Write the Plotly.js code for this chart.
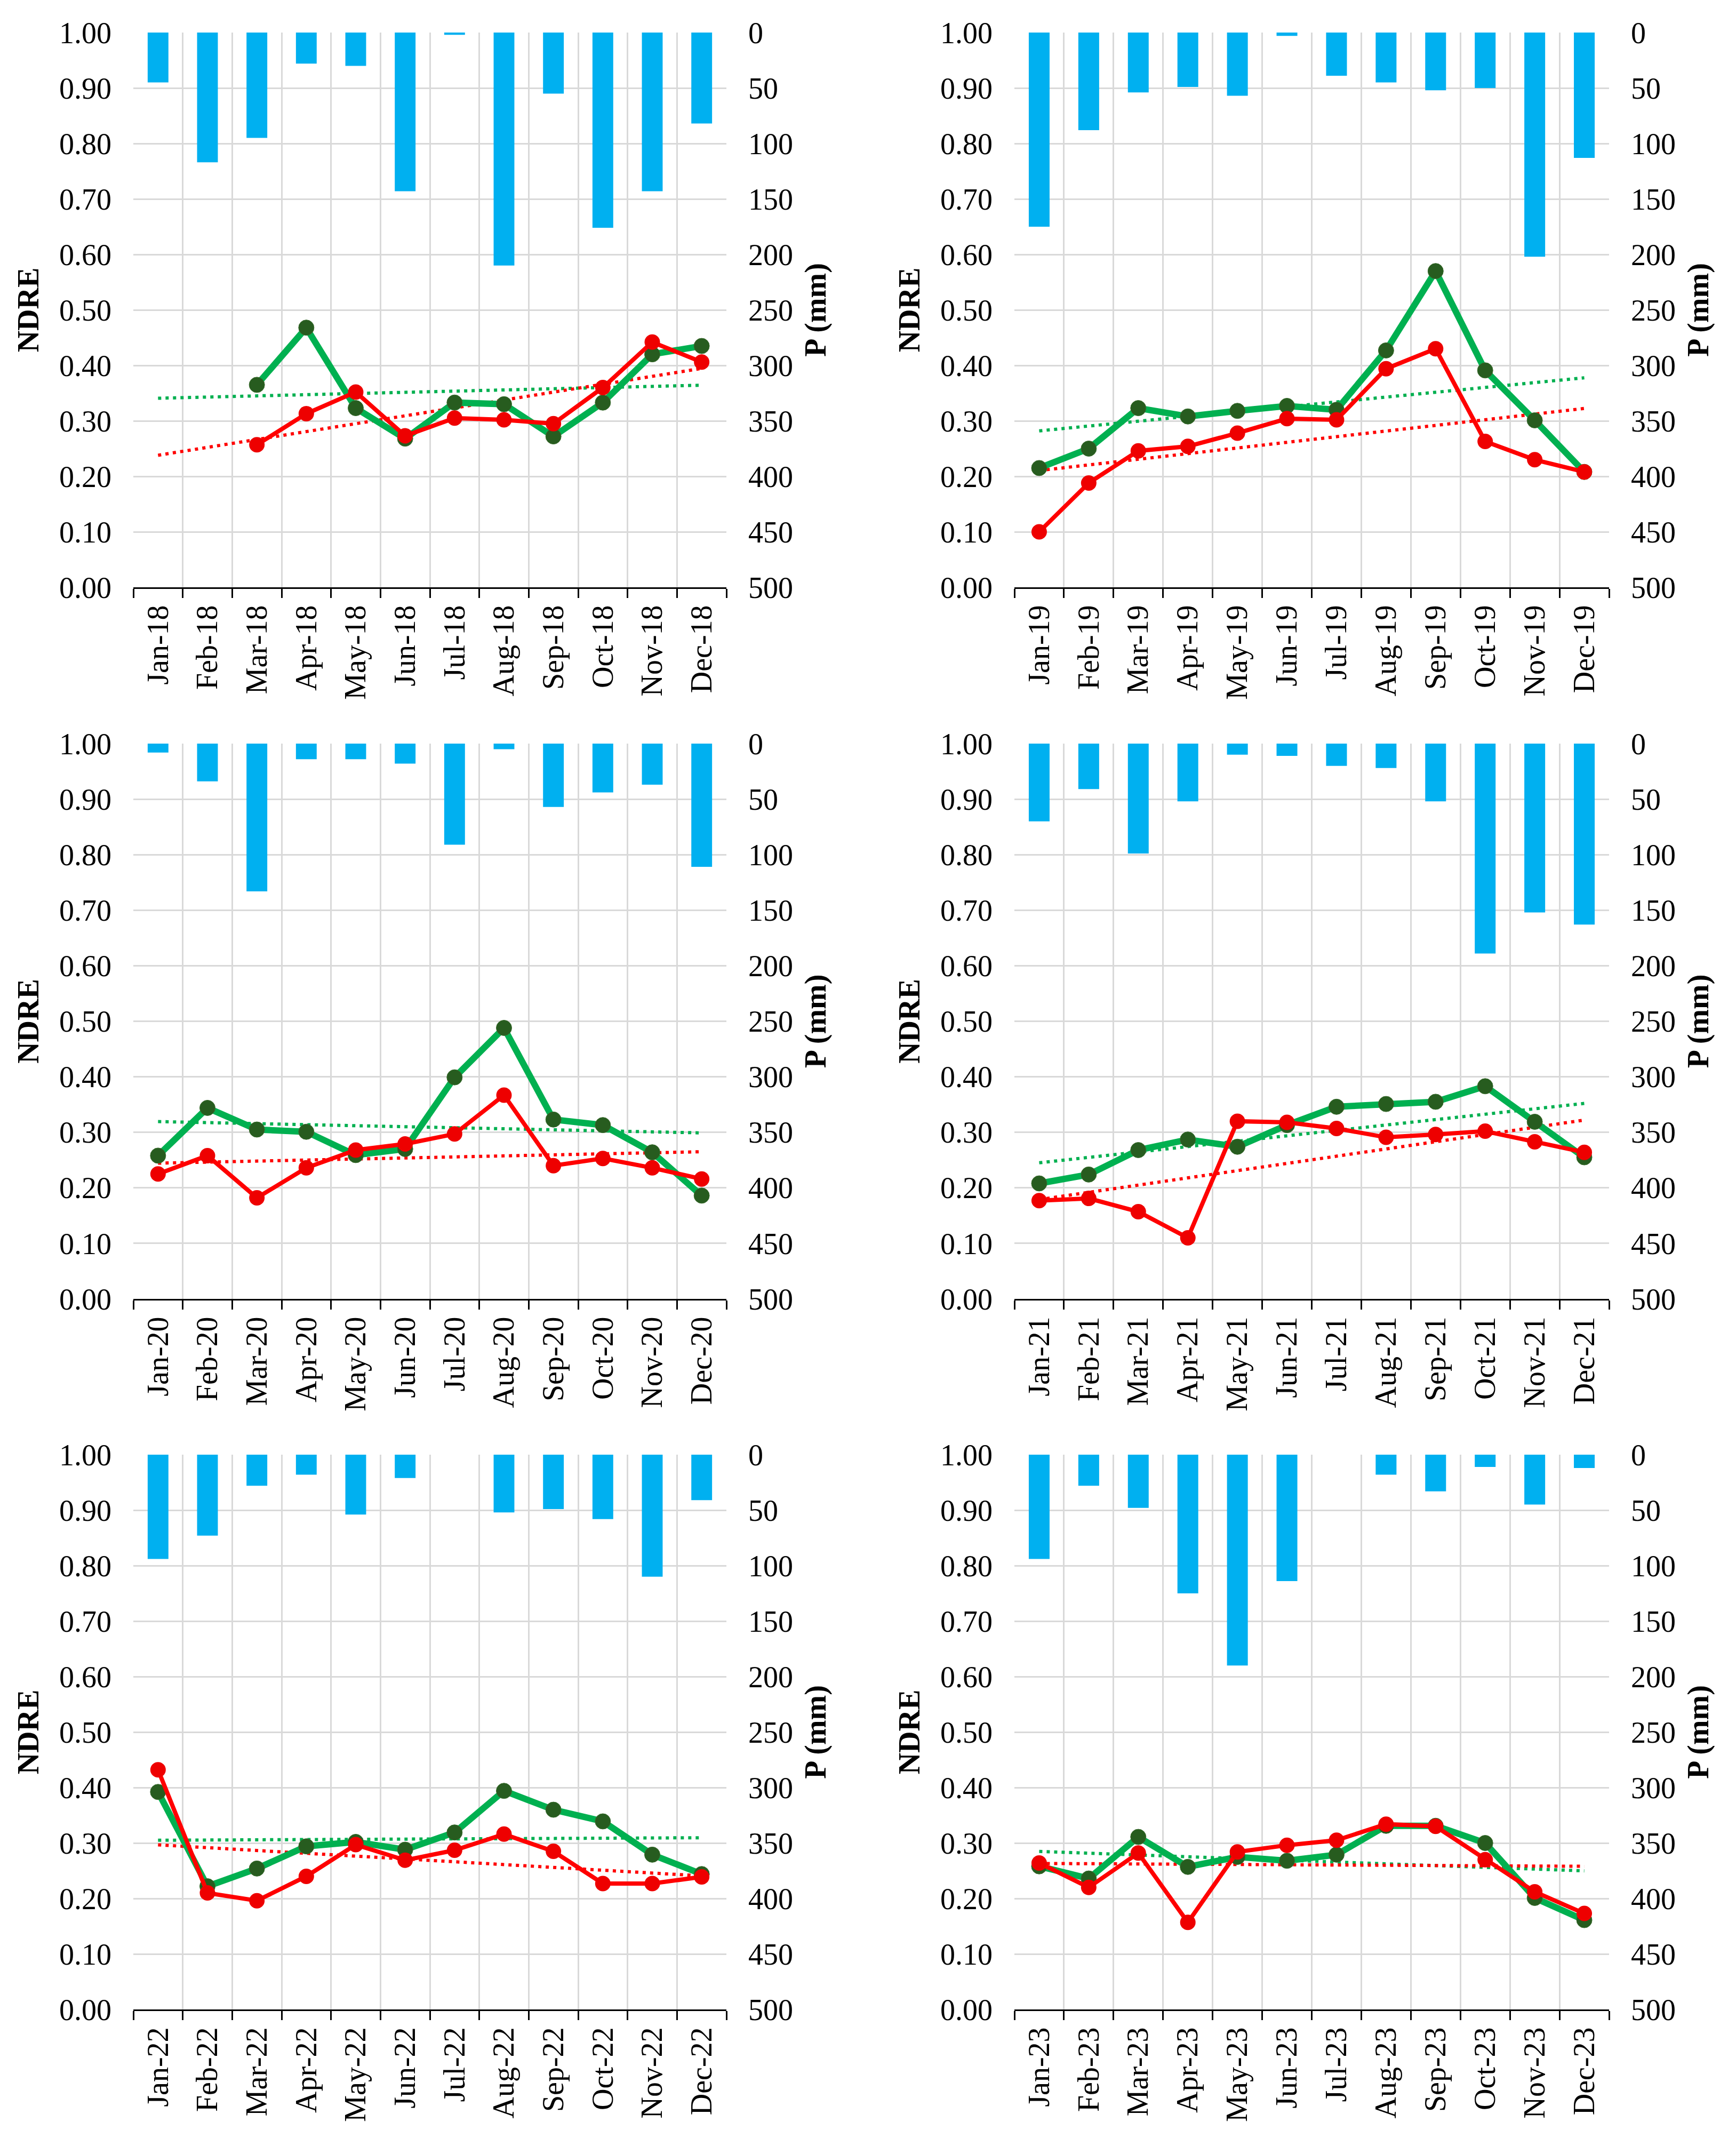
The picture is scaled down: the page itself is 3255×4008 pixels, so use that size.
<!DOCTYPE html>
<html>
<head>
<meta charset="utf-8">
<script src="https://cdn.plot.ly/plotly-3.0.1.min.js"></script>
<style>
  html, body { margin: 0; padding: 0; background: #fff; }
  #chart { width: 3255px; height: 4008px; }
</style>
</head>
<body>
<div id="chart"></div>
<script>
'use strict';

// month names and year suffixes for the category labels
const months = ['Jan', 'Feb', 'Mar', 'Apr', 'May', 'Jun', 'Jul', 'Aug', 'Sep', 'Oct', 'Nov', 'Dec'];
const years = ['18', '19', '20', '21', '22', '23'];

// monthly precipitation P (mm), drawn as bars hanging from the top
const rain2018 = [45, 117, 95, 28, 30, 143, 2, 210, 55, 176, 143, 82];
const rain2019 = [175, 88, 54, 49, 57, 3, 39, 45, 52, 50, 202, 113];
const rain2020 = [8, 34, 133, 14, 14, 18, 91, 5, 57, 44, 37, 111];
const rain2021 = [70, 41, 99, 52, 10, 11, 20, 22, 52, 189, 152, 163];
const rain2022 = [94, 73, 28, 18, 54, 21, 0, 52, 49, 58, 110, 41];
const rain2023 = [94, 28, 48, 125, 190, 114, 0, 18, 33, 11, 45, 12];

// NDRE, green series
const green2018 = [null, null, 0.365, 0.468, 0.323, 0.268, 0.333, 0.330, 0.272, 0.333, 0.420, 0.435];
const green2019 = [0.215, 0.250, 0.323, 0.308, 0.318, 0.327, 0.320, 0.427, 0.570, 0.391, 0.301, 0.208];
const green2020 = [0.258, 0.344, 0.305, 0.301, 0.259, 0.270, 0.399, 0.488, 0.323, 0.313, 0.264, 0.186];
const green2021 = [0.208, 0.224, 0.268, 0.287, 0.274, 0.313, 0.346, 0.351, 0.355, 0.383, 0.319, 0.255];
const green2022 = [0.392, 0.222, 0.254, 0.294, 0.302, 0.288, 0.319, 0.394, 0.360, 0.339, 0.279, 0.244];
const green2023 = [0.258, 0.236, 0.311, 0.257, 0.275, 0.268, 0.279, 0.331, 0.331, 0.300, 0.201, 0.161];

// NDRE, red series
const red2018 = [null, null, 0.257, 0.313, 0.352, 0.273, 0.305, 0.302, 0.295, 0.360, 0.442, 0.406];
const red2019 = [0.100, 0.188, 0.246, 0.254, 0.278, 0.304, 0.302, 0.394, 0.430, 0.263, 0.230, 0.208];
const red2020 = [0.225, 0.258, 0.182, 0.236, 0.268, 0.279, 0.297, 0.367, 0.240, 0.253, 0.236, 0.216];
const red2021 = [0.177, 0.181, 0.157, 0.110, 0.320, 0.318, 0.307, 0.291, 0.296, 0.302, 0.283, 0.264];
const red2022 = [0.432, 0.210, 0.196, 0.240, 0.297, 0.269, 0.287, 0.316, 0.285, 0.227, 0.227, 0.239];
const red2023 = [0.264, 0.220, 0.282, 0.157, 0.284, 0.296, 0.305, 0.334, 0.330, 0.270, 0.212, 0.173];

const rainAll = [rain2018, rain2019, rain2020, rain2021, rain2022, rain2023];
const greenAll = [green2018, green2019, green2020, green2021, green2022, green2023];
const redAll = [red2018, red2019, red2020, red2021, red2022, red2023];

const FONT = 'Liberation Serif, Times New Roman, serif';
const GRID = '#d9d9d9';
const W = 3255, H = 4008;

// plot-area boxes in pixels (left, right) and (top, bottom)
const colsPx = [[250, 1362], [1902, 3017]];
const rowsPx = [[61, 1101], [1394, 2435], [2727, 3767]];

// linear least-squares trend over month index 1..12, skipping empty months (Excel style)
function trendEnds(vals) {
    const pts = vals.map((v, i) => [i + 1, v]).filter(p => p[1] !== null);
    const n = pts.length;
    const mx = pts.reduce((s, p) => s + p[0], 0) / n;
    const my = pts.reduce((s, p) => s + p[1], 0) / n;
    let sxy = 0, sxx = 0;
    pts.forEach(p => { sxy += (p[0] - mx) * (p[1] - my); sxx += (p[0] - mx) ** 2; });
    const b = sxy / sxx, a = my - b * mx;
    return [a + b * 1, a + b * 12];
}

const traces = [];
const layout = {
    width: W, height: H,
    margin: { l: 0, r: 0, t: 0, b: 0 },
    paper_bgcolor: '#fff', plot_bgcolor: '#fff',
    showlegend: false,
    font: { family: FONT, size: 56, color: '#000' },
};

for (let i = 0; i < 6; i++) {
    const n = i + 1, m = i + 7;
    const col = colsPx[i % 2], row = rowsPx[Math.floor(i / 2)];
    const cats = months.map(mo => mo + '-' + years[i]);
    const xa = 'x' + n, ya = 'y' + n, yl = 'y' + m;

    // precipitation bars on the main (right, reversed) axis
    traces.push({
        type: 'bar', x: cats, y: rainAll[i], xaxis: xa, yaxis: ya,
        width: 0.42, marker: { color: '#00B0F0', line: { width: 0 } },
        hoverinfo: 'y',
    });

    // dotted linear trends
    [[greenAll[i], '#00B050'], [redAll[i], '#FF0000']].forEach(([vals, c]) => {
        traces.push({
            type: 'scatter', mode: 'lines', x: [cats[0], cats[11]], y: trendEnds(vals),
            xaxis: xa, yaxis: yl,
            line: { color: c, width: 6, dash: '6px,8px' },
            hoverinfo: 'skip',
        });
    });

    // NDRE lines on the overlaid left axis
    traces.push({
        type: 'scatter', mode: 'lines+markers', x: cats, y: greenAll[i], xaxis: xa, yaxis: yl,
        line: { color: '#00B050', width: 12 },
        marker: { color: '#275C1F', size: 29, line: { color: '#3c6e30', width: 1 } },
    });
    traces.push({
        type: 'scatter', mode: 'lines+markers', x: cats, y: redAll[i], xaxis: xa, yaxis: yl,
        line: { color: '#FF0000', width: 8 },
        marker: { color: '#EE0000', size: 29 },
    });

    const xDom = [col[0] / W, col[1] / W];
    const yDom = [1 - row[1] / H, 1 - row[0] / H];

    layout['xaxis' + n] = {
        domain: xDom, anchor: ya, type: 'category', range: [-0.5, 11.5],
        tickson: 'boundaries', ticks: 'outside', ticklen: 17, tickwidth: 3, tickcolor: '#000',
        showline: true, linecolor: '#000', linewidth: 3,
        showgrid: true, gridcolor: GRID, gridwidth: 3,
        tickangle: -90, tickfont: { family: FONT, size: 56, color: '#000' },
        ticklabelstandoff: 8,
        fixedrange: true,
    };
    layout['yaxis' + n] = {
        domain: yDom, anchor: xa, side: 'right',
        range: [500, 0], tick0: 0, dtick: 50, ticks: '',
        showgrid: true, gridcolor: GRID, gridwidth: 3, zeroline: false, showline: false,
        tickfont: { family: FONT, size: 56, color: '#000' },
        ticklabelstandoff: 40,
        title: { text: 'P (mm)', standoff: 22, font: { family: FONT, size: 56, color: '#000', weight: 'bold' } },
        fixedrange: true,
    };
    layout['yaxis' + m] = {
        overlaying: ya, anchor: xa, side: 'left',
        range: [0, 1], tick0: 0, dtick: 0.1, tickformat: '.2f', ticks: '',
        showgrid: false, zeroline: false, showline: false,
        tickfont: { family: FONT, size: 56, color: '#000' },
        ticklabelstandoff: 40,
        title: { text: 'NDRE', standoff: 20, font: { family: FONT, size: 56, color: '#000', weight: 'bold' } },
        fixedrange: true,
    };
}

Plotly.newPlot('chart', traces, layout, { staticPlot: true, displayModeBar: false });
</script>
</body>
</html>
